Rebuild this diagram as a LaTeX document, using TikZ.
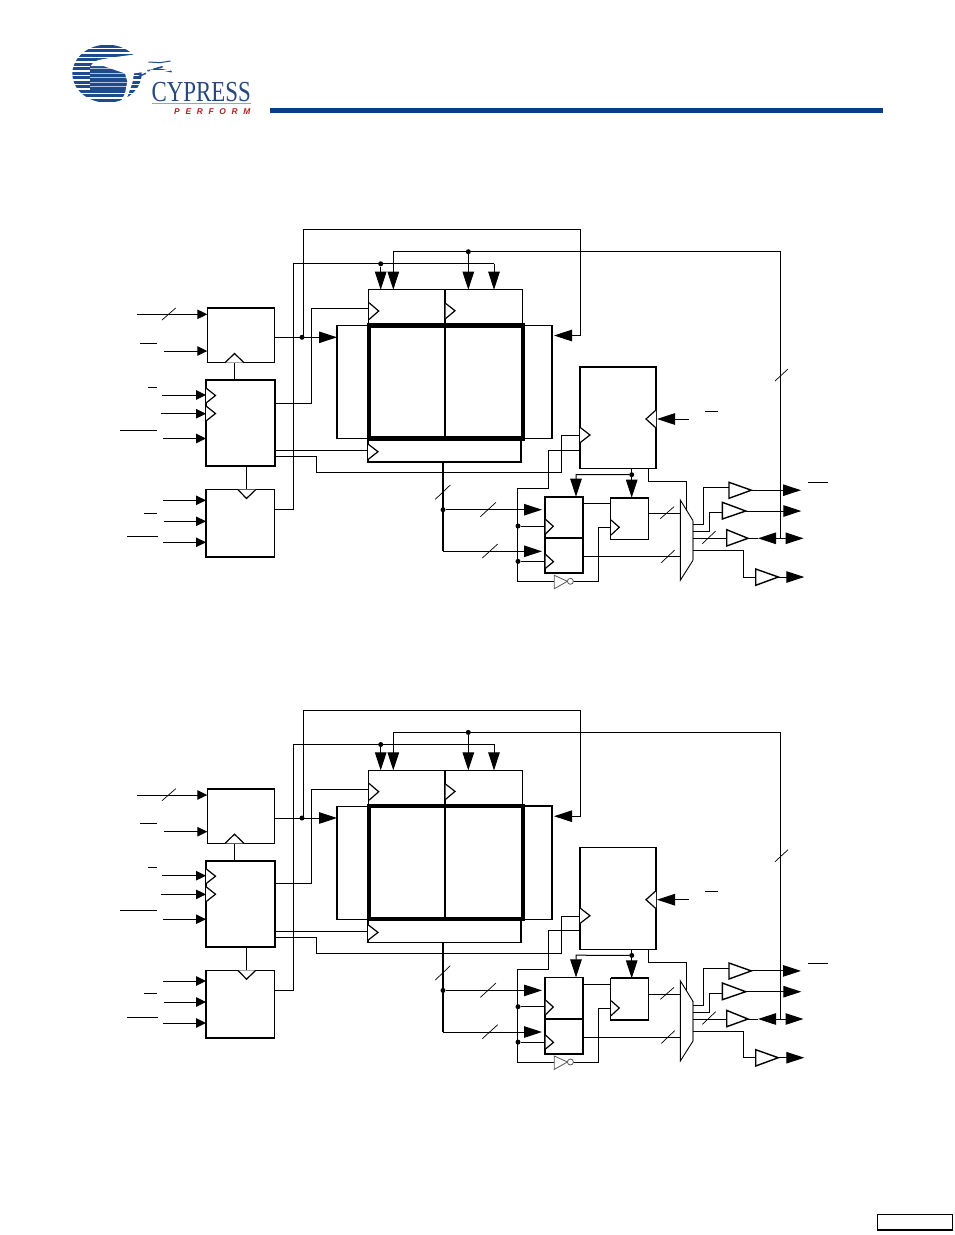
\documentclass[tikz,border=0pt]{standalone}
\usepackage{fontspec}
\setmainfont{Liberation Serif}
\newfontfamily\perffont[LetterSpace=68]{Liberation Sans}
\usetikzlibrary{arrows.meta,calc}
\definecolor{cynavy}{HTML}{0B3C87}
\definecolor{cylogo}{HTML}{1E4B8E}
\definecolor{cytext}{HTML}{27477F}
\definecolor{cyred}{HTML}{B32020}
\definecolor{cypink}{HTML}{E08A80}
\tikzset{
  wire/.style={line width=1pt,line join=miter},
  busw/.style={line width=1.8pt},
  sarr/.style={wire,-{Triangle[length=10pt,width=9.5pt]}},
  barr/.style={wire,-{Triangle[length=18pt,width=11.5pt]}},
  blk/.style={draw,line width=1.25pt,inner sep=0pt,outer sep=0pt},
  blkt/.style={draw,line width=1.8pt,inner sep=0pt,outer sep=0pt},
  clk/.style={draw,fill=white,line width=1.2pt},
  dotn/.style={circle,fill=black,inner sep=0pt,minimum size=5pt},
  bufr/.style={draw,fill=white,line width=1.4pt},
  bar/.style={line width=.9pt},
  bmark/.style={line width=.7pt},
}
\newcommand\boxat[6][blk]{% style,name,x1,y1,x2,y2
  \node[#1,minimum width={(#5-#3)*1pt},minimum height={(#6-#4)*1pt},anchor=north west] (#2) at (#3,#4) {};}
\newcommand\clkmark[5]{\draw[clk] (#1,#2) -- (#3,#4) -- (#1,#5);}
\newcommand\dotat[3]{\node[dotn] (#1) at (#2,#3) {};}
\newcommand\busmark[4]{\draw[bmark] (#1,#2) -- (#3,#4);}
\newcommand\overbar[3]{\draw[bar] (#1,#3) -- (#2,#3);}
\newcommand\bufat[6]{\draw[bufr] (#1,#2) -- (#3,#4) -- (#1,#5) -- cycle; \coordinate (#6in) at (#1,#4); \coordinate (#6out) at (#3,#4);}
\begin{document}
\begin{tikzpicture}[x=1pt,y=-1pt]
\useasboundingbox (0,0) rectangle (954,1235);
\fill[white] (0,0) rectangle (954,1235);
% ---------- logo ----------
\begin{scope}[shift={(70,40)},x=0.33333pt,y=-0.33333pt]
  \begin{scope}
    \clip (111,101) ellipse [x radius=104,y radius=87];
    \foreach \s in {0,...,13} {
      \fill[cylogo] (0,{14+\s*13.5}) rectangle (230,{14+\s*13.5+9.5});
    }
    \fill[cylogo] (60,78) rectangle (172,150);
    \foreach \s in {0,...,4} {
      \fill[white!65!cylogo] (60,{85+\s*13.5}) rectangle (172,{86.8+\s*13.5});
    }
  \end{scope}
  \fill[white] (62,78) -- (70,68) -- (85,60) -- (130,52) -- (190,44) -- (215,47) -- (240,65) -- (270,72)
     -- (302,65) -- (300,75) -- (270,82) -- (235,90) -- (222,96) -- (192,100) -- (188,125) -- (176,160)
     -- (165,190) -- (150,190) -- (165,160) -- (172,125) -- (165,100) -- (135,90) -- (100,78) -- cycle;
  \draw[cylogo,line width=1pt] (235,66) -- (270,68) -- (302,63);
  \draw[cylogo,line width=1.5pt] (232,92) -- (270,88) -- (305,95);
  \draw[cylogo,line width=1.5pt] (250,88) -- (278,80);
  \draw[white,line width=.5pt] (240,92) -- (300,92);
  \draw[cylogo,line width=1.4pt] (200,112) -- (228,100);
\end{scope}
\node[anchor=base west,inner sep=0pt,text=cytext,xscale=.79,font=\fontsize{29}{29}\selectfont] (logotext) at (151.5,101) {CYPRESS};
\draw[cypink,line width=1pt] (152,103.3) -- (251,103.3);
\node[anchor=base west,inner sep=0pt,text=cyred,font=\perffont\bfseries\itshape\fontsize{8.4}{8.4}\selectfont] (logotag) at (174,114.3) {PERFORM};
\fill[cynavy] (270,108) rectangle (883,113);
% page number box
\node[draw,line width=1.3pt,inner sep=0pt,outer sep=0pt,minimum width=75pt,minimum height=15.5pt,anchor=north west] (pagebox) at (877.4,1214.5) {};
% ---------- two identical schematics ----------
\foreach \dy in {0,480.7} {
\begin{scope}[shift={(0,\dy)}]
  % blocks
  \boxat{addr}{207.3}{308}{274.7}{362.7}
  \boxat[blkt]{ctrl}{206}{380}{274.7}{466}
  \boxat{cnt}{206}{489.7}{274.7}{557.3}
  \draw[line width=1.7pt] (addr.north west) -- (addr.north east);
  \draw[line width=1.7pt] (cnt.north west) -- (cnt.south west) -- (cnt.south east);
  \boxat{lsense}{337}{325.7}{369}{438.5}
  \boxat{rsense}{522}{325.2}{552}{438.5}
  \boxat{wtop}{368.3}{289.7}{522.7}{325}
  \boxat[blkt]{wbot}{368}{438}{521}{461.7}
  \node[draw,line width=4.4pt,inner sep=0pt,outer sep=0pt,minimum width=153.8pt,minimum height=113pt,anchor=north west] (ram) at (369,325.3) {};
  \draw[line width=1.7pt] (445,289.7) -- (445,438);
  \boxat{burst}{580}{367}{656}{468.5}
  \draw[line width=1.7pt] (burst.north west) -- (burst.south west);
  \boxat[blkt]{regup}{545.3}{496.7}{583.3}{538}
  \boxat[blkt]{reglow}{545.3}{538}{583.3}{573}
  \boxat{regout}{610.7}{497.7}{648.7}{539.3}
  \draw[line width=1.9pt] (regout.north west) -- (regout.north east);
  % free ends
  \foreach \n/\x/\y/\t in {a/137/314.3/addr,b/164/351/addr,c/162/395/ctrl,d/161/413.7/ctrl,e/163/438.5/ctrl,f/163/500.3/cnt,g/164/521.3/cnt,h/163/542.3/cnt} {
    \coordinate (i\n) at (\x,\y);
    \draw[sarr] (i\n) -- (\t.west |- i\n);
  }
  % control links
  \draw[wire] (addr.south -| 234.5,0) -- (ctrl.north -| 234.5,0);
  \draw[wire] (ctrl.south -| 246.5,0) -- (cnt.north -| 246.5,0);
  % address out
  \dotat{jaddr}{302}{337.3}
  \draw[barr] (addr.east |- jaddr) -- (lsense.west |- jaddr);
  \coordinate (fbtop) at (303,229.5);
  \coordinate (fbr) at (580.5,229.5);
  \coordinate (fbin) at (580.5,335.5);
  \draw[wire] (303,337.3) -- (fbtop) -- (fbr) -- (fbin);
  \draw[barr] (fbin) -- (554,335.5);
  % counter out to byte writes
  \coordinate (c1) at (293.5,509.5);
  \coordinate (c2) at (293.5,263.5);
  \coordinate (c3) at (494,263.5);
  \dotat{jcnt}{380.7}{263.8}
  \draw[wire] (cnt.east |- c1) -- (c1) -- (c2) -- (c3);
  \draw[barr] (c3) -- (wtop.north -| c3);
  \draw[barr] (jcnt) -- (wtop.north -| jcnt);
  % OE loop
  \coordinate (t1) at (780.5,251.7);
  \coordinate (t2) at (393.3,251.7);
  \coordinate (t3) at (780.5,538.3);
  \dotat{jtop}{468.3}{251.7}
  \draw[barr] (t2) -- (wtop.north -| t2);
  \draw[barr] (jtop) -- (wtop.north -| jtop);
  \draw[wire] (t2) -- (t1) -- (t3);
  \busmark{775}{381}{788}{369}
  % clocks from ctrl
  \coordinate (k1) at (311.5,403);
  \coordinate (k2) at (311.5,308.5);
  \draw[wire] (ctrl.east |- k1) -- (k1) -- (k2) -- (wtop.west |- k2);
  \coordinate (k3) at (0,450.7);
  \draw[wire] (ctrl.east |- k3) -- (wbot.west |- k3);
  \coordinate (k4) at (316,456.3);
  \coordinate (k5) at (316,472.5);
  \coordinate (k6) at (561.3,472.5);
  \coordinate (k7) at (561.3,435.7);
  \draw[wire] (ctrl.east |- k4) -- (k4) -- (k5) -- (k6) -- (k7) -- (burst.west |- k7);
  \coordinate (k8) at (548.3,450);
  \coordinate (k9) at (548.3,488.3);
  \coordinate (k10) at (517.3,488.3);
  \coordinate (k11) at (517.3,581.3);
  \draw[wire] (burst.west |- k8) -- (k8) -- (k9) -- (k10) -- (k11) -- (554.3,581.3);
  \dotat{jr1}{518}{526}
  \dotat{jr2}{518}{561.4}
  \draw[wire] (jr1) -- (regup.west |- jr1);
  \draw[wire] (jr2) -- (reglow.west |- jr2);
  % data bus
  \coordinate (d1) at (443,461.7);
  \coordinate (d2) at (443,551.3);
  \dotat{jdata}{443}{509.7}
  \draw[busw] (d1) -- (d2);
  \draw[barr] (d2) -- (542,551.3);
  \draw[barr] (jdata) -- (542,509.7);
  \busmark{435.3}{499.3}{450.3}{485}
  \busmark{480.3}{516.7}{496}{502.3}
  \busmark{482.3}{558}{497.7}{544}
  % output enable of registers
  \dotat{jburst}{631.7}{474.7}
  \draw[barr] (burst.south -| jburst) -- (regout.north -| jburst);
  \coordinate (e1) at (576,474.5);
  \draw[barr] (jburst) -- (e1) -- (regup.north -| e1);
  % burst clock input
  \coordinate (bc) at (689,419);
  \draw[barr] (bc) -- (657,419);
  % reg to reg, inverter
  \coordinate (r1) at (0,503.3);
  \draw[wire] (regup.east |- r1) -- (regout.west |- r1);
  \coordinate (m1) at (680.3,513.3);
  \coordinate (m2) at (680.3,556.3);
  \draw[wire] (regout.east |- m1) -- (m1);
  \draw[wire] (reglow.east |- m2) -- (m2);
  \busmark{660.3}{518.7}{674}{506.7}
  \busmark{661.3}{562.7}{674.7}{550}
  \coordinate (inv1) at (573.4,581.3);
  \coordinate (inv2) at (598.3,581.3);
  \coordinate (inv3) at (598.3,527.7);
  \draw[wire] (inv1) -- (inv2) -- (inv3) -- (regout.west |- inv3);
  \draw[gray!70!black,line width=.8pt,fill=white] (554.3,575.3) -- (567.4,581.3) -- (554.3,588.7) -- cycle;
  \node[draw,gray!70!black,line width=.8pt,fill=white,circle,inner sep=0pt,minimum size=6pt] (invb) at (570.4,581.3) {};
  % mux
  \coordinate (b1) at (648.3,468.5);
  \coordinate (b2) at (648.3,481.3);
  \coordinate (b3) at (686.7,481.3);
  \coordinate (b4) at (686.7,510.5);
  \draw[wire] (b1) -- (b2) -- (b3) -- (b4);
  \draw[gray,line width=1.5pt] (693,520.7) -- (693,560.3);
  \draw[line width=.9pt] (693,520.7) -- (680.3,500) -- (680.3,580.3) -- (693,560.3);
  % buffers
  \bufat{729}{482.3}{751.3}{490.2}{498.3}{ba}
  \bufat{722.3}{502.3}{745.7}{511}{519}{bb}
  \bufat{726.7}{529.7}{748}{538.3}{546}{bc}
  \bufat{755.7}{569}{778.3}{577}{585.3}{bd}
  % mux outs
  \coordinate (o1) at (693,524.7); \coordinate (o1a) at (703,524.7); \coordinate (o1b) at (703,487.7);
  \draw[wire] (o1) -- (o1a) -- (o1b) -- (729,487.7);
  \coordinate (o2) at (693,531.3); \coordinate (o2a) at (709.7,531.3); \coordinate (o2b) at (709.7,512.3);
  \draw[wire] (o2) -- (o2a) -- (o2b) -- (722.3,512.3);
  \coordinate (o3) at (693,538.3);
  \draw[wire] (o3) -- (bcin);
  \coordinate (o4) at (693,550.3); \coordinate (o4a) at (743.3,550.3); \coordinate (o4b) at (743.3,577);
  \draw[wire] (o4) -- (o4a) -- (o4b) -- (bdin);
  \busmark{702.3}{543.7}{715.7}{531}
  % outputs
  \coordinate (ta) at (801,490.2);
  \coordinate (tb) at (801.3,511);
  \coordinate (tc) at (803.5,538.3);
  \coordinate (td) at (804.3,577);
  \draw[barr] (baout) -- (ta);
  \draw[barr] (bbout) -- (tb);
  \draw[barr] (bdout) -- (td);
  \draw[barr] (t3) -- (tc);
  \draw[barr] (t3) -- (758,538.3);
  \draw[wire] (758,538.3) -- (bcout);
  % clock chevrons
  \clkmark{206}{388}{215.5}{395.5}{403}
  \clkmark{206}{406}{215.5}{413.5}{421}
  \clkmark{369}{302.7}{378.7}{311}{319.5}
  \clkmark{445.5}{303.3}{455}{310.7}{318.7}
  \clkmark{368}{444}{378}{451.7}{459.5}
  \clkmark{580}{427.3}{590}{435}{442.7}
  \clkmark{656}{410}{646}{419}{428}
  \clkmark{545.5}{519.3}{553.3}{526.3}{534}
  \clkmark{545.5}{554.3}{553.5}{561.7}{568.3}
  \clkmark{611}{520}{619.3}{527.3}{535}
  \draw[clk] (225,362.7) -- (234.5,353.5) -- (244,362.7);
  \draw[clk] (238,489.7) -- (246.5,498.5) -- (255.7,489.7);
  % overbars and bus marks on inputs
  \busmark{162}{320}{175.7}{308}
  \overbar{140}{157}{343}
  \overbar{148}{157}{387}
  \overbar{120}{157}{430}
  \overbar{144}{157}{513}
  \overbar{127}{158}{536.3}
  \overbar{705}{718}{411}
  \overbar{808.3}{828}{482.3}
\end{scope}
}
\end{tikzpicture}
\end{document}
